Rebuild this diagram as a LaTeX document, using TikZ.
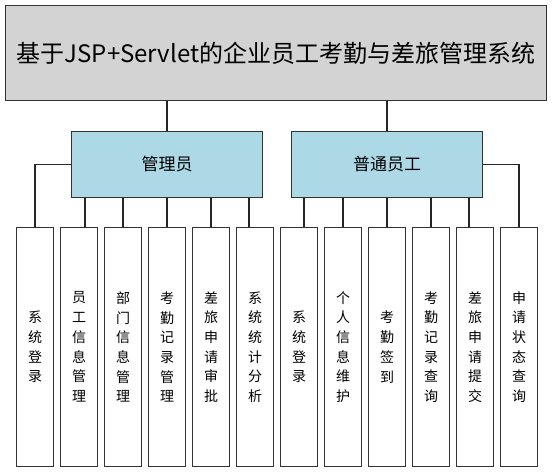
\documentclass[tikz,border=0pt]{standalone}
\usepackage{fontspec}
\setmainfont{Noto Sans CJK SC}
\usepackage{tikz}
\usetikzlibrary{positioning,calc}

\definecolor{titlegray}{HTML}{D3D3D3}
\definecolor{roleblue}{HTML}{ADD8E6}
\definecolor{edgegray}{HTML}{333333}

\tikzset{
  titlebox/.style={draw=edgegray, line width=1.8pt, fill=titlegray, minimum width=541pt, minimum height=95pt, font=\fontsize{24}{28}\selectfont},
  rolebox/.style={draw=edgegray, line width=1.4pt, fill=roleblue, minimum width=191pt, minimum height=66pt, font=\fontsize{17}{20}\selectfont},
  leafbox/.style={draw=edgegray, line width=1.4pt, fill=white, minimum width=37pt, minimum height=239pt, align=center, font=\fontsize{14}{19.7}\selectfont},
  link/.style={draw=black!85, line width=1.2pt}
}

\begin{document}
\begin{tikzpicture}[x=1pt, y=-1pt]
  \useasboundingbox (0,0) rectangle (553,473);

  \node[titlebox] (title) at (276,53) {基于JSP+Servlet的企业员工考勤与差旅管理系统};

  \node[rolebox] (admin) at (167,164.5) {管理员};
  \node[rolebox] (staff) at (387,164.5) {普通员工};

  % admin leaves
  \node[leafbox] (lf1) at (35,347) {系\\统\\登\\录};
  \node[leafbox] (lf2) at (79,347) {员\\工\\信\\息\\管\\理};
  \node[leafbox] (lf3) at (123,347) {部\\门\\信\\息\\管\\理};
  \node[leafbox] (lf4) at (167,347) {考\\勤\\记\\录\\管\\理};
  \node[leafbox] (lf5) at (211,347) {差\\旅\\申\\请\\审\\批};
  \node[leafbox] (lf6) at (255,347) {系\\统\\统\\计\\分\\析};

  % staff leaves
  \node[leafbox] (lf7) at (299,347) {系\\统\\登\\录};
  \node[leafbox] (lf8) at (343,347) {个\\人\\信\\息\\维\\护};
  \node[leafbox] (lf9) at (387,347) {考\\勤\\签\\到};
  \node[leafbox] (lf10) at (431,347) {考\\勤\\记\\录\\查\\询};
  \node[leafbox] (lf11) at (475,347) {差\\旅\\申\\请\\提\\交};
  \node[leafbox] (lf12) at (519,347) {申\\请\\状\\态\\查\\询};

  % title to roles
  \draw[link] (admin.north) -- (admin.north |- title.south);
  \draw[link] (staff.north) -- (staff.north |- title.south);

  % admin to its leaves
  \draw[link] (admin.west) -| (lf1.north);
  \draw[link] ([xshift=6pt]lf2.north) -- ([xshift=6pt]lf2.north |- admin.south);
  \draw[link] (lf3.north) -- (lf3.north |- admin.south);
  \draw[link] (lf4.north) -- (admin.south);
  \draw[link] (lf5.north) -- (lf5.north |- admin.south);
  \draw[link] ([xshift=-6pt]lf6.north) -- ([xshift=-6pt]lf6.north |- admin.south);

  % staff to its leaves
  \draw[link] ([xshift=5pt]lf7.north) -- ([xshift=5pt]lf7.north |- staff.south);
  \draw[link] (lf8.north) -- (lf8.north |- staff.south);
  \draw[link] (lf9.north) -- (staff.south);
  \draw[link] (lf10.north) -- (lf10.north |- staff.south);
  \draw[link] ([xshift=-6pt]lf11.north) -- ([xshift=-6pt]lf11.north |- staff.south);
  \draw[link] (staff.east) -| (lf12.north);
\end{tikzpicture}
\end{document}
